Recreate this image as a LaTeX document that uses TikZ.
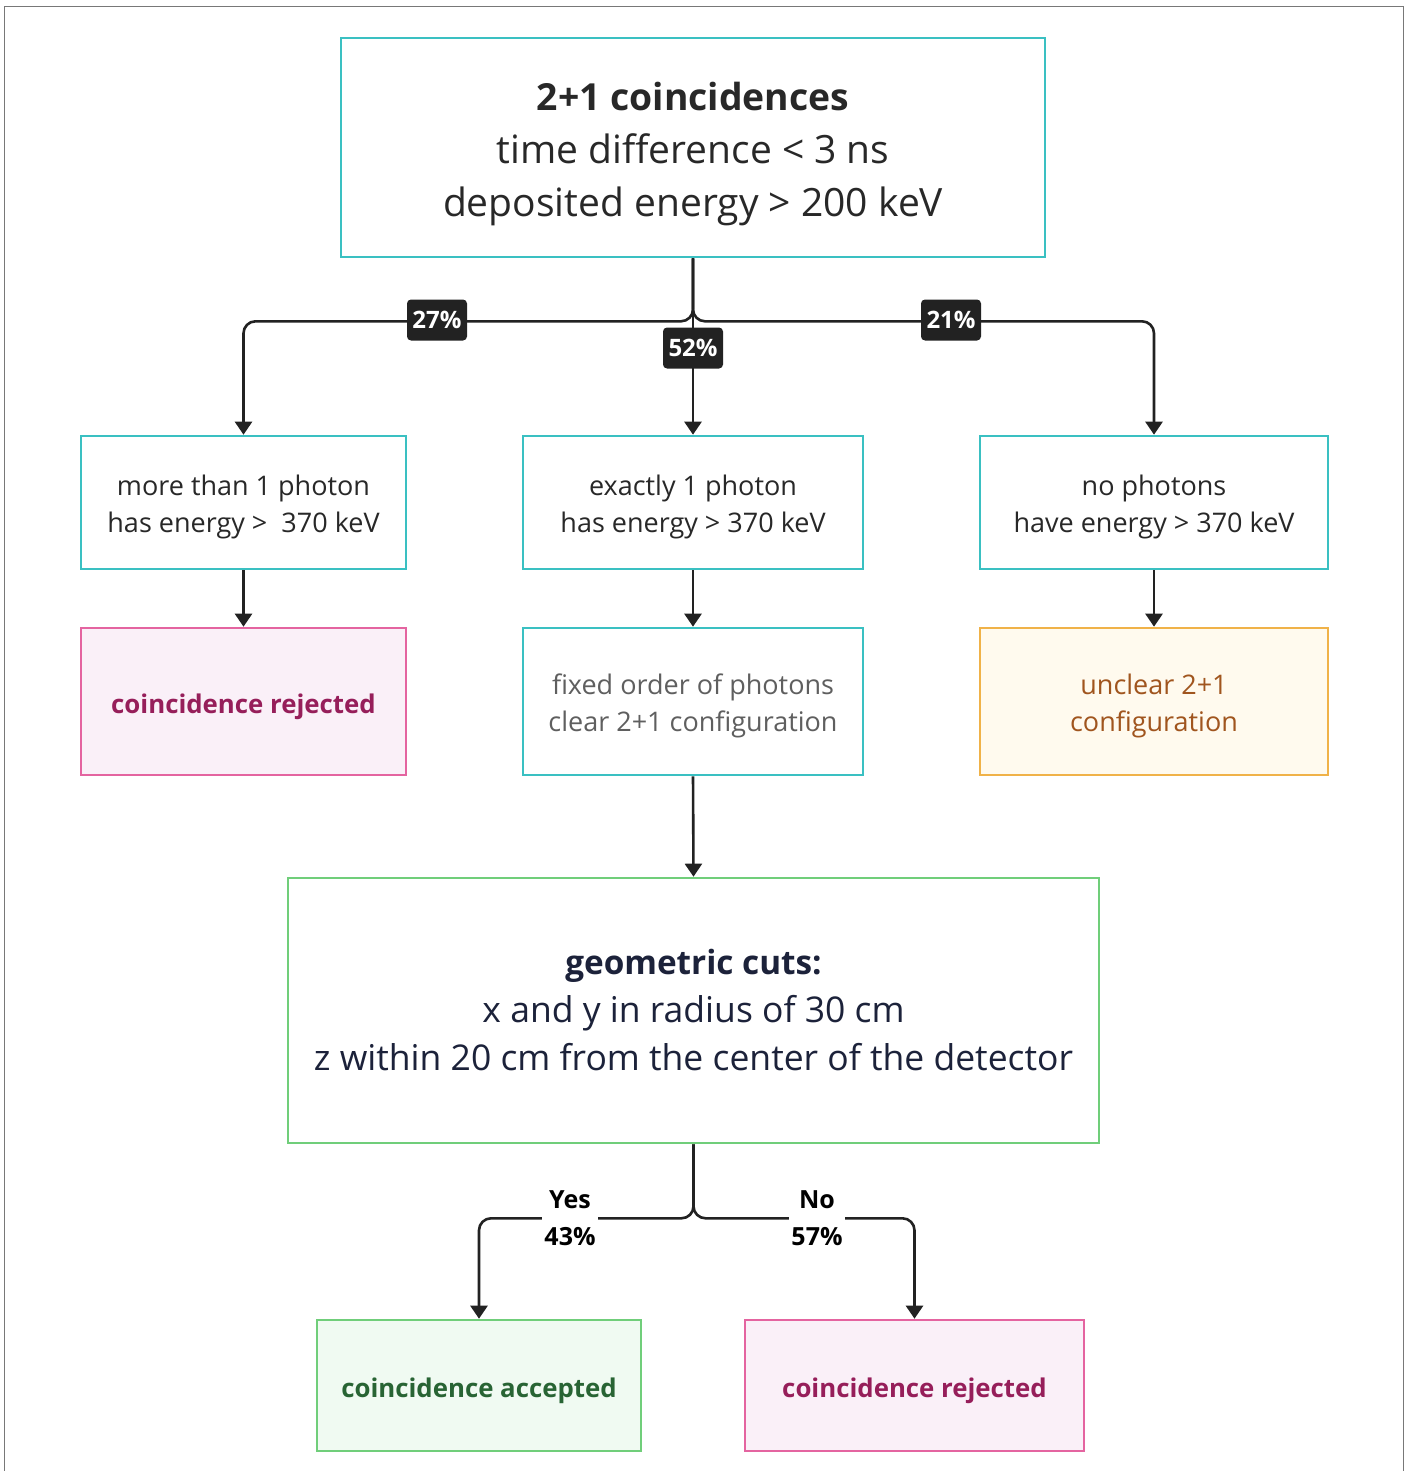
\documentclass[tikz,border=0pt]{standalone}
\usepackage{fontspec}
\setmainfont{Open Sans}
\usetikzlibrary{arrows.meta}
\definecolor{tealc}{RGB}{58,192,194}
\definecolor{txtdark}{RGB}{40,40,40}
\definecolor{txtgray}{RGB}{95,95,95}
\definecolor{pinkb}{RGB}{228,100,160}
\definecolor{pinkf}{RGB}{250,240,248}
\definecolor{pinkt}{RGB}{150,30,90}
\definecolor{orab}{RGB}{240,178,72}
\definecolor{oraf}{RGB}{255,250,238}
\definecolor{orat}{RGB}{160,85,30}
\definecolor{grnb}{RGB}{112,206,122}
\definecolor{grnf}{RGB}{240,250,242}
\definecolor{grnt}{RGB}{40,100,52}
\definecolor{navyt}{RGB}{28,34,58}
\definecolor{linec}{RGB}{34,34,34}
\definecolor{framec}{RGB}{120,120,120}
% shift text down inside a box without changing its reported size
\newcommand{\dn}[2]{\raisebox{-#1}[\height][\depth]{\begin{tabular}{@{}c@{}}#2\end{tabular}}}
\begin{document}
\begin{tikzpicture}[x=1pt,y=-1pt,
  box/.style={draw, line width=2.6pt, inner sep=0pt, align=center, anchor=center},
  tealbox/.style={box, draw=tealc, fill=white, text=txtdark},
  pinkbox/.style={box, draw=pinkb, fill=pinkf, text=pinkt},
  orabox/.style={box, draw=orab, fill=oraf, text=orat},
  grnbox/.style={box, draw=grnb, fill=white, text=navyt},
  accbox/.style={box, draw=grnb, fill=grnf, text=grnt},
  conn/.style={draw=linec, line width=2.6pt, rounded corners=12pt, -{Triangle[width=17pt,length=13pt]}},
  pct/.style={fill=linec, text=white, rounded corners=4pt, inner sep=0pt, minimum width=60pt, minimum height=41pt, font=\fontsize{24}{24}\selectfont\bfseries},
  yn/.style={fill=white, text=black, inner sep=2pt, align=center, font=\fontsize{25}{37}\selectfont\bfseries},
  bigf/.style={font=\fontsize{39}{53}\selectfont},
  midf/.style={font=\fontsize{27}{37}\selectfont},
  geof/.style={font=\fontsize{35.5}{48}\selectfont}
]
\useasboundingbox (0,0) rectangle (1410,1471);
\draw[framec, line width=1.6pt] (4.5,1471) -- (4.5,6.5) -- (1403.5,6.5) -- (1403.5,1471);

\node[tealbox, bigf, minimum width=704pt, minimum height=219pt] (top) at (693,147.5)
  {\dn{5pt}{{\fontsize{37.3}{53}\selectfont\bfseries 2+1 coincidences}\\time difference < 3 ns\\deposited energy > 200 keV}};

\node[tealbox, midf, minimum width=325pt, minimum height=133pt] (L2) at (243.5,502.5)
  {\dn{4pt}{more than 1 photon\\has energy >\ \ 370 keV}};
\node[tealbox, midf, minimum width=340pt, minimum height=133pt] (M2) at (693,502.5)
  {\dn{4pt}{exactly 1 photon\\has energy > 370 keV}};
\node[tealbox, midf, minimum width=348pt, minimum height=133pt] (R2) at (1154,502.5)
  {\dn{4pt}{no photons\\have energy > 370 keV}};

\node[pinkbox, midf, minimum width=325pt, minimum height=147pt] (L3) at (243.5,701.5)
  {\dn{5pt}{\fontsize{25.8}{37}\selectfont\bfseries coincidence rejected}};
\node[tealbox, midf, text=txtgray, minimum width=340pt, minimum height=147pt] (M3) at (693,701.5)
  {\dn{4pt}{fixed order of photons\\clear 2+1 configuration}};
\node[orabox, midf, minimum width=348pt, minimum height=147pt] (R3) at (1154,701.5)
  {\dn{4pt}{unclear 2+1\\configuration}};

\node[grnbox, geof, minimum width=811pt, minimum height=265pt] (geo) at (693.5,1010.5)
  {\dn{2pt}{{\fontsize{33.3}{48}\selectfont\bfseries geometric cuts:}\\x and y in radius of 30 cm\\z within 20 cm from the center of the detector}};

\node[accbox, midf, minimum width=324pt, minimum height=131pt] (acc) at (479,1385.5)
  {\dn{5pt}{\fontsize{25.8}{37}\selectfont\bfseries coincidence accepted}};
\node[pinkbox, midf, minimum width=339pt, minimum height=131pt] (rej) at (914.5,1385.5)
  {\dn{5pt}{\fontsize{25.8}{37}\selectfont\bfseries coincidence rejected}};

% connectors
\draw[conn] (top.south) -- ++(0,63) -| (L2.north);
\draw[conn] (top.south) -- ++(0,63) -| (R2.north);
\draw[conn] (top.south) -- (M2.north);
\node[pct] (p27) at (437,320) {27\%};
\node[pct] (p52) at (693,348) {52\%};
\node[pct] (p21) at (951,320) {21\%};

\draw[conn] (L2.south) -- (L3.north);
\draw[conn] (M2.south) -- (M3.north);
\draw[conn] (R2.south) -- (R3.north);
\draw[conn] (M3.south) -- (geo.north);

\draw[conn] (geo.south) -- ++(0,74) -| (acc.north);
\draw[conn] (geo.south) -- ++(0,74) -| (rej.north);
\node[yn] (yes) at (570,1218.5) {Yes\\43\%};
\node[yn] (no) at (817,1218.5) {No\\57\%};
\end{tikzpicture}
\end{document}
